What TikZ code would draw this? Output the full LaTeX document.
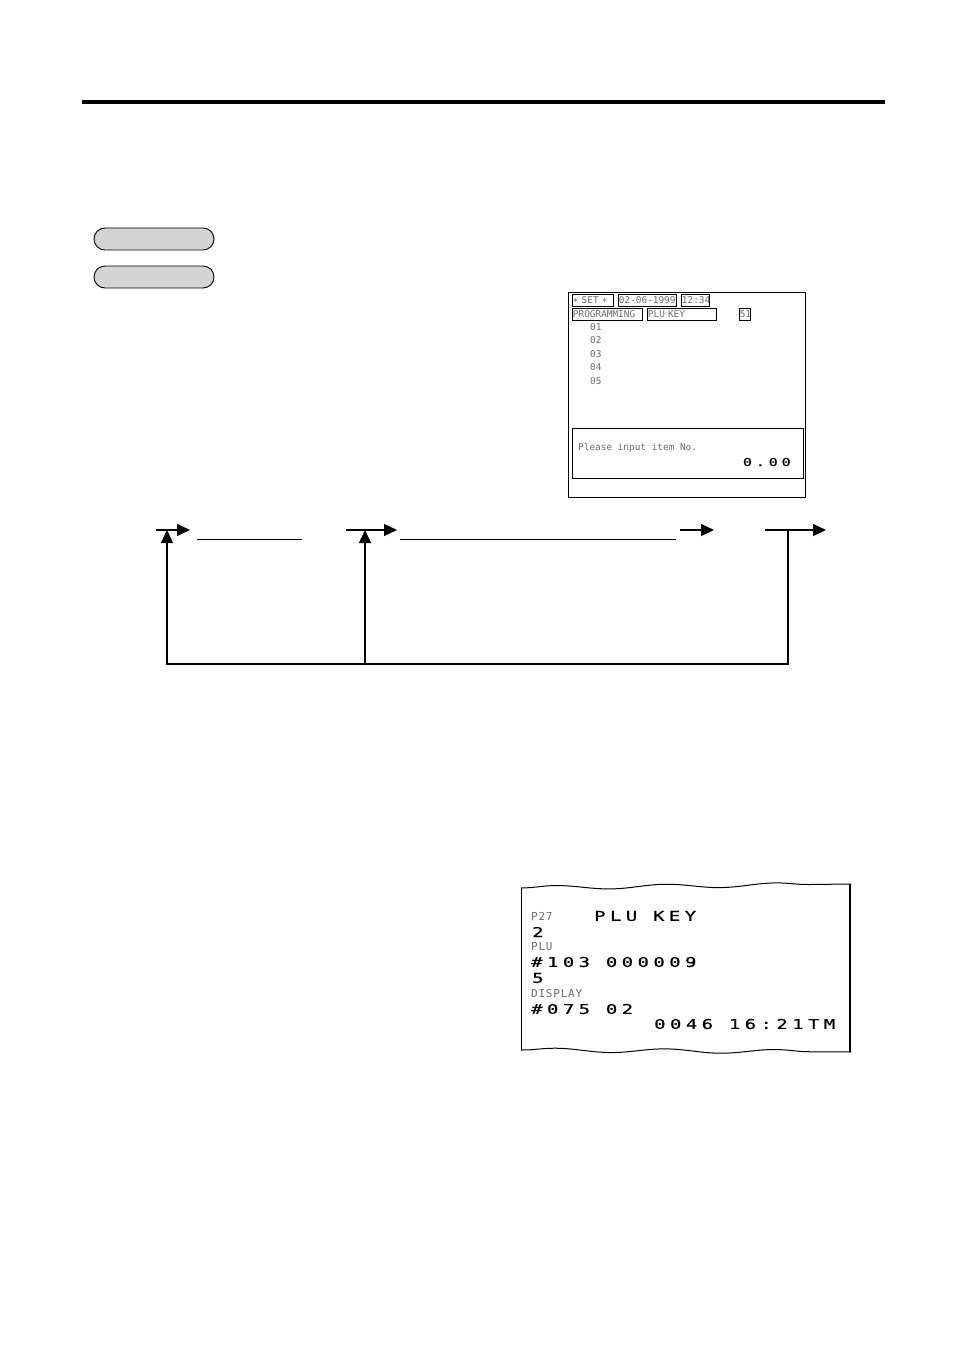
\documentclass[tikz,border=0pt]{standalone}
\usepackage{fontspec}
\usepackage{tikz}
\usetikzlibrary{arrows.meta,decorations.pathmorphing}

\newfontfamily\lcdfont{DejaVu Sans Mono}
\newfontfamily\rcptfont[FakeStretch=1.4,FakeBold=0.6,LetterSpace=33]{DejaVu Sans Mono}
\newfontfamily\tagfont[LetterSpace=7]{DejaVu Sans Mono}
\definecolor{lcdgray}{gray}{0.42}
\definecolor{pillgray}{gray}{0.83}

\begin{document}
\begin{tikzpicture}[x=1pt, y=-1pt, every node/.style={inner sep=0pt, anchor=west},
	lcdbox/.style={draw, line width=0.9pt, inner xsep=0.5pt, minimum height=11.5pt, align=left, text=lcdgray, font=\lcdfont\fontsize{9.4}{10}\selectfont},
	lcdtext/.style={text=lcdgray, font=\lcdfont\fontsize{9.4}{10}\selectfont},
	pill/.style={draw, line width=0.9pt, fill=pillgray, rounded corners=11pt, minimum width=120pt, minimum height=22pt, anchor=center},
	bigtext/.style={font=\rcptfont\fontsize{13.5}{14}\selectfont},
	tagtext/.style={text=lcdgray, font=\tagfont\fontsize{11}{12}\selectfont},
	flow/.style={line width=1.3pt},
	flowarrow/.style={-{Triangle[length=13pt,width=12pt]}}]
	\useasboundingbox (0,0) rectangle (954,1348);
	\draw[line width=4pt] (82,102) -- (885,102);
	
	% keys
	\node[pill] (keyA) at (154,239) {};
	\node[pill] (keyB) at (154,277) {};
	
	% display
	\node[draw, line width=1pt, anchor=north west, minimum width=237pt, minimum height=205pt] (lcd) at (568,292) {};
	\node[lcdbox, text width=40pt] (set) at (572,300.5) {∗ SET ∗};
	\node[lcdbox, text width=57pt] (date) at (618,300.5) {02-06-1999};
	\node[lcdbox, text width=27pt] (time) at (681,300.5) {12:34};
	\node[lcdbox, text width=69pt] (prog) at (572,314.5) {PROGRAMMING};
	\node[lcdbox, text width=68pt] (plukey) at (647,314.5) {PLU KEY};
	\node[lcdbox, text width=10pt] (code) at (739,314.5) {51};
	\foreach \n [count=\i] in {01,02,03,04,05}
		\node[lcdtext] (item\i) at (590,313.5+13.5*\i) {\n};
	\node[draw, line width=1pt, anchor=north west, minimum width=231pt, minimum height=50pt] (msg) at (572,428) {};
	\node[lcdtext] (prompt) at (578,448) {Please input item No.};
	\node[anchor=east, font=\rcptfont\fontsize{11}{12}\selectfont] (amount) at (791,462) {0.00};
	
	% flow
	\coordinate (s1) at (156,530); \coordinate (e1) at (190,530);
	\coordinate (s2) at (346,530); \coordinate (e2) at (397,530);
	\coordinate (s3) at (680,530); \coordinate (e3) at (714,530);
	\coordinate (s4) at (765,530); \coordinate (e4) at (826,530);
	\coordinate (j4) at (788,530);
	\coordinate (low) at (788,664); \coordinate (mid) at (365,664); \coordinate (left) at (167,664);
	\coordinate (up1) at (167,530); \coordinate (up2) at (365,530);
	\coordinate (b1) at (197,539); \coordinate (b1e) at (302,539);
	\coordinate (b2) at (400,539); \coordinate (b2e) at (676,539);
	
	\draw[flow, flowarrow] (s1) -- (e1);
	\draw[flow, flowarrow] (s2) -- (e2);
	\draw[flow, flowarrow] (s3) -- (e3);
	\draw[flow, flowarrow] (s4) -- (e4);
	\draw[flow, flowarrow] (j4) -- (low) -- (left) -- (up1);
	\draw[flow, flowarrow] (mid) -- (up2);
	\draw[line width=1pt] (b1) -- (b1e);
	\draw[line width=1pt] (b2) -- (b2e);
	
	% receipt
	\draw[line width=1pt] (521,888) -- (521,1050);
	\draw[line width=2.2pt] (850,884) -- (850,1052);
	\draw[line width=1pt, decorate, decoration={snake, segment length=110pt, amplitude=2pt}] (521,888) -- (851,884);
	\draw[line width=1pt, decorate, decoration={snake, segment length=110pt, amplitude=2pt}] (521,1050) -- (851,1052);
	\node[tagtext] (p27) at (531,916) {P27};
	\node[bigtext] (title) at (594,916) {PLU KEY};
	\node[bigtext] (two) at (532,932) {2};
	\node[tagtext] (plu) at (531,947) {PLU};
	\node[bigtext] (pluval) at (531,962) {\#103 000009};
	\node[bigtext] (five) at (532,978) {5};
	\node[tagtext] (disp) at (531,993) {DISPLAY};
	\node[bigtext] (dispval) at (531,1009) {\#075 02};
	\node[bigtext] (stamp) at (654,1024) {0046 16:21TM};
\end{tikzpicture}
\end{document}
